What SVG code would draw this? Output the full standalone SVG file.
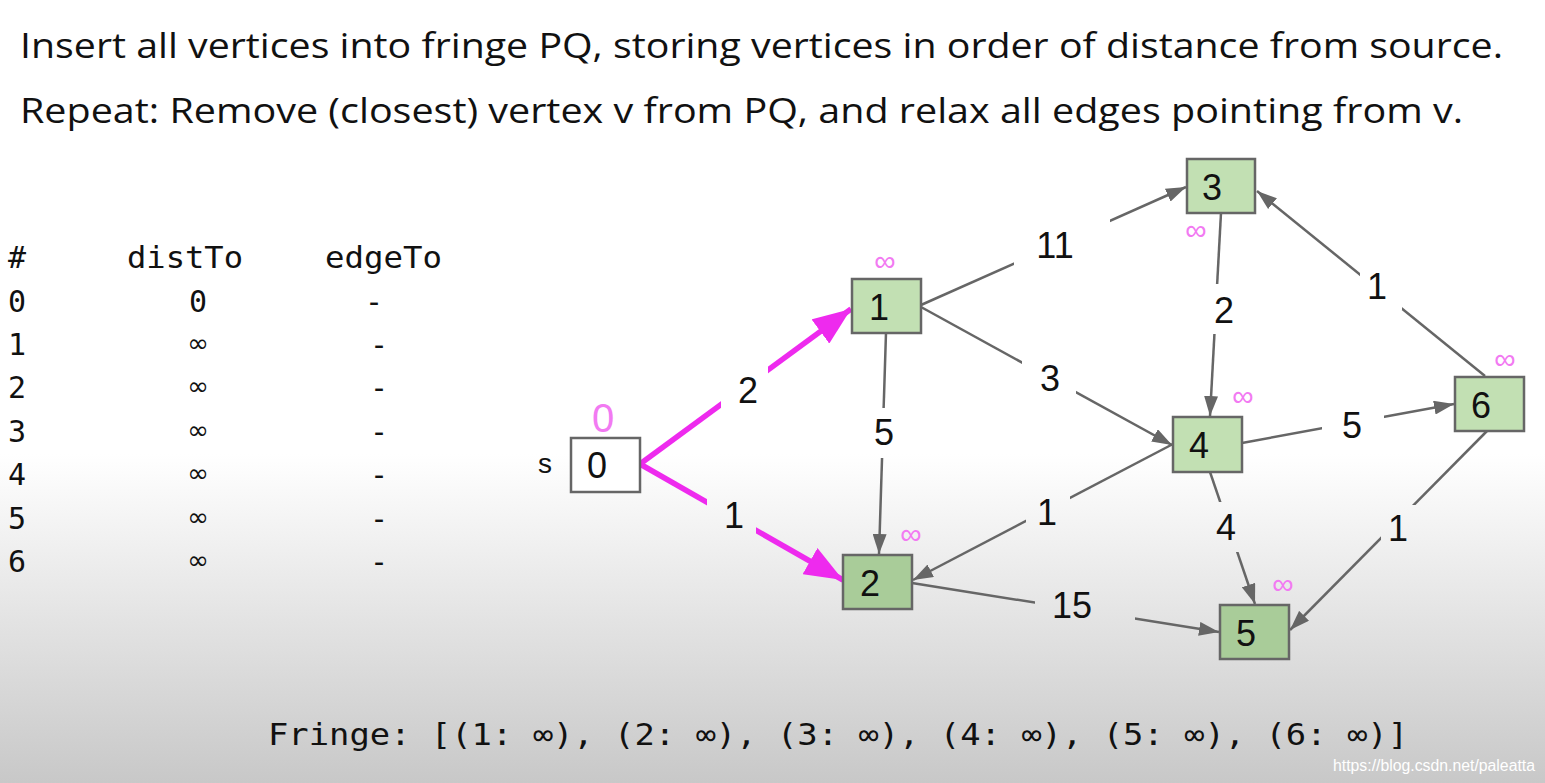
<svg xmlns="http://www.w3.org/2000/svg" width="1545" height="783" viewBox="0 0 1545 783">
<defs>
<linearGradient id="bg" x1="0" y1="0" x2="0" y2="1">
<stop offset="0" stop-color="#ffffff"/>
<stop offset="0.58" stop-color="#ffffff"/>
<stop offset="1" stop-color="#c8c8c8"/>
</linearGradient>
<marker id="ag" markerUnits="userSpaceOnUse" markerWidth="20" markerHeight="14" refX="20" refY="7" orient="auto">
<path d="M0,0 L20,7 L0,14 z" fill="#666"/>
</marker>
<marker id="am" markerUnits="userSpaceOnUse" markerWidth="38" markerHeight="30" refX="38" refY="15" orient="auto">
<path d="M0,0 L38,15 L0,30 z" fill="#ee2aee"/>
</marker>
<mask id="gaps" maskUnits="userSpaceOnUse" x="0" y="0" width="1545" height="783">
<rect x="0" y="0" width="1545" height="783" fill="#fff"/>
<rect x="1014" y="215" width="96" height="60" fill="#000"/>
<rect x="1022" y="350" width="54" height="60" fill="#000"/>
<rect x="860" y="408" width="48" height="50" fill="#000"/>
<rect x="1198" y="284" width="52" height="50" fill="#000"/>
<rect x="1360" y="260" width="42" height="50" fill="#000"/>
<rect x="1322" y="395" width="62" height="60" fill="#000"/>
<rect x="1026" y="487" width="44" height="52" fill="#000"/>
<rect x="1203" y="502" width="46" height="50" fill="#000"/>
<rect x="1381" y="505" width="37" height="48" fill="#000"/>
<rect x="1035" y="578" width="100" height="52" fill="#000"/>
<rect x="721" y="355" width="47" height="60" fill="#000"/>
<rect x="707" y="490" width="49" height="50" fill="#000"/>
</mask>
<style>
.title{font-family:"Open Sans","Noto Sans",sans-serif;font-size:35px;fill:#111}
.mono{font-family:"DejaVu Sans Mono","Liberation Mono",monospace;font-size:30px;fill:#111}
.inf{font-family:"DejaVu Sans",sans-serif;font-size:26px;fill:#111}
.node rect{fill:#c2e0b3;stroke:#666;stroke-width:2.5}
.node.dk rect{fill:#a9cc99}
.node text{font-family:"Liberation Sans",Arial,sans-serif;font-size:36px;fill:#111;text-anchor:middle}
.node text.pk{fill:#f27af2}
.e{stroke:#666;stroke-width:2.5;fill:none;marker-end:url(#ag)}
.m{stroke:#ee2aee;stroke-width:5.5;fill:none;marker-end:url(#am)}
.lbl{font-family:"Liberation Sans",Arial,sans-serif;font-size:36px;fill:#111;text-anchor:middle}
</style>
</defs>
<rect x="0" y="0" width="1545" height="783" fill="url(#bg)"/>

<g id="title">
<text class="title" x="20" y="58" textLength="1483" lengthAdjust="spacingAndGlyphs">Insert all vertices into fringe PQ, storing vertices in order of distance from source.</text>
<text class="title" x="20" y="123" textLength="1443" lengthAdjust="spacingAndGlyphs">Repeat: Remove (closest) vertex v from PQ, and relax all edges pointing from v.</text>
</g>

<g id="table">
<text class="mono" x="8" y="268">#</text>
<text class="mono" x="127" y="268" textLength="116" lengthAdjust="spacingAndGlyphs">distTo</text>
<text class="mono" x="325" y="268" textLength="117" lengthAdjust="spacingAndGlyphs">edgeTo</text>
<text class="mono" x="8" y="312">0</text>
<text class="mono" x="8" y="355">1</text>
<text class="mono" x="8" y="398">2</text>
<text class="mono" x="8" y="442">3</text>
<text class="mono" x="8" y="485">4</text>
<text class="mono" x="8" y="529">5</text>
<text class="mono" x="8" y="572">6</text>
<text class="mono" x="198" y="312" text-anchor="middle">0</text>
<text class="inf" x="198" y="352" text-anchor="middle">∞</text>
<text class="inf" x="198" y="395" text-anchor="middle">∞</text>
<text class="inf" x="198" y="439" text-anchor="middle">∞</text>
<text class="inf" x="198" y="482" text-anchor="middle">∞</text>
<text class="inf" x="198" y="526" text-anchor="middle">∞</text>
<text class="inf" x="198" y="569" text-anchor="middle">∞</text>
<text class="mono" x="374" y="312" text-anchor="middle">-</text>
<text class="mono" x="379" y="355" text-anchor="middle">-</text>
<text class="mono" x="379" y="398" text-anchor="middle">-</text>
<text class="mono" x="379" y="442" text-anchor="middle">-</text>
<text class="mono" x="379" y="485" text-anchor="middle">-</text>
<text class="mono" x="379" y="529" text-anchor="middle">-</text>
<text class="mono" x="379" y="572" text-anchor="middle">-</text>
</g>

<g id="connectors">
<g mask="url(#gaps)">
<line class="m" x1="640" y1="464" x2="851" y2="309"/>
<line class="m" x1="640" y1="464" x2="843" y2="580"/>
<line class="e" x1="921" y1="305" x2="1186" y2="187"/>
<line class="e" x1="921" y1="307" x2="1172" y2="445"/>
<line class="e" x1="886" y1="333" x2="879" y2="554"/>
<line class="e" x1="1221" y1="213" x2="1210" y2="416"/>
<line class="e" x1="1485" y1="376" x2="1257" y2="191"/>
<line class="e" x1="1242" y1="443" x2="1454" y2="404"/>
<line class="e" x1="1173" y1="444" x2="913" y2="580"/>
<line class="e" x1="1210" y1="472" x2="1255" y2="604"/>
<line class="e" x1="1487" y1="431" x2="1290" y2="630"/>
<line class="e" x1="912" y1="583" x2="1219" y2="632"/>
</g>
<text class="lbl" x="748" y="403">2</text>
<text class="lbl" x="734" y="528">1</text>
<text class="lbl" x="1055" y="258">11</text>
<text class="lbl" x="1050" y="391">3</text>
<text class="lbl" x="884" y="445">5</text>
<text class="lbl" x="1224" y="323">2</text>
<text class="lbl" x="1377" y="299">1</text>
<text class="lbl" x="1352" y="438">5</text>
<text class="lbl" x="1047" y="525">1</text>
<text class="lbl" x="1226" y="540">4</text>
<text class="lbl" x="1398" y="541">1</text>
<text class="lbl" x="1072" y="618">15</text>
</g>

<g id="node0" class="node">
<rect x="571" y="438" width="69" height="54" style="fill:#fff"/>
<text x="597" y="478">0</text>
<text x="545" y="473" style="font-size:28px">s</text>
<text class="pk" x="603" y="432" style="font-size:40px">0</text>
</g>
<g id="node1" class="node">
<rect x="852" y="279" width="69" height="54"/>
<text x="879" y="320">1</text>
<text class="pk" x="885" y="271" style="font-size:30px">∞</text>
</g>
<g id="node2" class="node dk">
<rect x="843" y="555" width="69" height="54"/>
<text x="870" y="596">2</text>
<text class="pk" x="911" y="544" style="font-size:30px">∞</text>
</g>
<g id="node3" class="node">
<rect x="1187" y="159" width="68" height="54"/>
<text x="1212" y="200">3</text>
<text class="pk" x="1196" y="240" style="font-size:30px">∞</text>
</g>
<g id="node4" class="node">
<rect x="1173" y="417" width="69" height="55"/>
<text x="1199" y="458">4</text>
<text class="pk" x="1243" y="406" style="font-size:30px">∞</text>
</g>
<g id="node5" class="node dk">
<rect x="1220" y="605" width="69" height="54"/>
<text x="1246" y="646">5</text>
<text class="pk" x="1283" y="594" style="font-size:30px">∞</text>
</g>
<g id="node6" class="node">
<rect x="1455" y="377" width="69" height="54"/>
<text x="1481" y="418">6</text>
<text class="pk" x="1505" y="369" style="font-size:30px">∞</text>
</g>

<g id="fringe">
<text class="mono" x="268" y="745" textLength="1140" lengthAdjust="spacingAndGlyphs">Fringe: [(1: ∞), (2: ∞), (3: ∞), (4: ∞), (5: ∞), (6: ∞)]</text>
</g>
<text x="1333" y="771" style="font-family:'Liberation Sans',Arial,sans-serif;font-size:16px;fill:#ffffff" textLength="202" lengthAdjust="spacingAndGlyphs">https://blog.csdn.net/paleatta</text>
</svg>
